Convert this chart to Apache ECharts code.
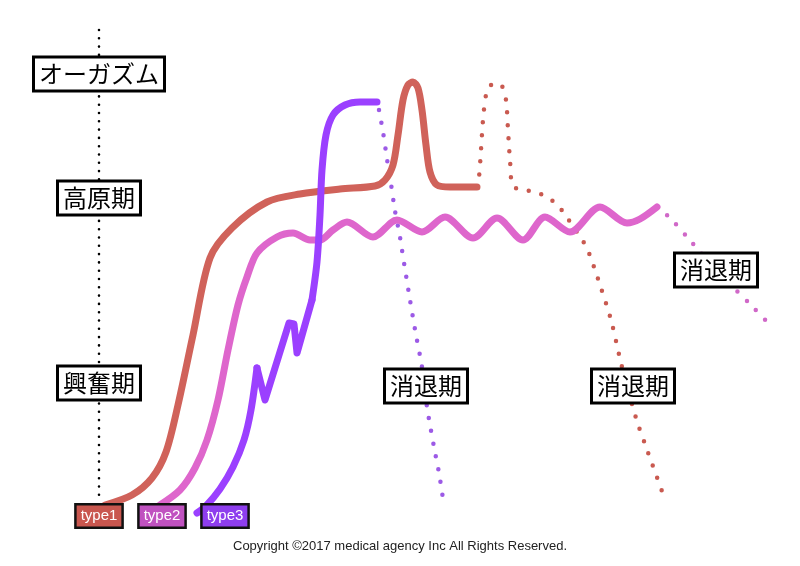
<!DOCTYPE html>
<html>
<head>
<meta charset="utf-8">
<script src="https://cdn.jsdelivr.net/npm/echarts@6/dist/echarts.min.js"></script>
<style>
  html, body { margin: 0; padding: 0; background: #fff; }
  #chart { width: 800px; height: 566px; }
</style>
</head>
<body>
<div id="chart"></div>
<script>
// 曲線データ（画面座標で読み取り）
const type1Solid = [[105,505],[132,495],[152,478],[166,452],[178,405],[193,335],[210,258],[232,228],[267,202],[300,194],[340,189],[375,186],[385,180],[393,165],[398,135],[403,100],[408,85],[413,82],[418,88],[422,110],[426,145],[430,172],[437,185],[450,187],[477,187]];
const type1Fade = [[477,187],[479,177],[481,150],[483,120],[486,95],[490,86],[496,83],[502,86],[506,100],[508,130],[510,160],[513,186],[525,190],[538,193],[550,199],[560,208],[568,219],[583,241],[589,253],[600,285],[611,320],[622,367],[636,418],[645,444],[663,494]];

const type2Solid = [[160,505],[180,490],[195,468],[207,440],[218,400],[228,350],[238,305],[247,277],[257,253],[277,237],[293,233],[310,240],[320,240],[333,230],[347,222],[373,237],[397,220],[422,232],[445,217],[473,238],[497,218],[523,240],[545,217],[570,232],[600,207],[627,223],[640,219],[657,207]];
const type2Fade = [[657,207],[670,218],[688,238],[700,252],[716,270],[733,287],[752,306],[770,325]];

const type3Low = [[197,513],[206,506],[220,489],[233,467],[244,440],[251,410],[257,368]];
const type3Zig = [[257,368],[265,400],[289,323],[294,324],[297,353],[312,300]];
const type3High = [[312,300],[317,262],[320,215],[322,170],[326,135],[333,115],[345,105],[360,102],[377,102]];
const type3Fade = [[379,110],[383,132],[387,159],[391,184],[395,211],[400,237],[402,250],[410,300],[416,335],[422,367],[427,407],[434,447],[439,473],[443,499]];

const stageAxis = [[99,30],[99,503]];

// ラベル
const stageLabels = ['オーガズム', '高原期', '興奮期'];
const stagePoints = [[99,74],[99,198],[99,383]];
const fadeLabels = ['消退期', '消退期', '消退期'];
const fadePoints = [[426,386],[633,386],[716,270]];
const typeLabels = ['type1', 'type2', 'type3'];
const typePoints = [[99,516],[162,516],[225,516]];

const colors = {
  red: '#d0625a', redDot: '#c95a50', redBox: '#c9574f',
  pink: '#de66cc', pinkDot: '#d068c8', pinkBox: '#c052c0',
  purple: '#9b40ff', purpleDot: '#9c5ae6', purpleBox: '#8e3eee'
};
const typeBoxColors = [colors.redBox, colors.pinkBox, colors.purpleBox];

const chart = echarts.init(document.getElementById('chart'));

function solidLine(data, color, smooth) {
  return {
    type: 'line', data: data, smooth: smooth, symbol: 'none', silent: true,
    lineStyle: { color: color, width: 7, cap: 'round', join: 'round' }
  };
}

function dotLine(data, color) {
  return {
    type: 'line', data: data, smooth: 0.3, symbol: 'none', silent: true,
    lineStyle: { color: color, width: 4.5, type: [0, 13], cap: 'round' }
  };
}

function labelSeries(names, points, label, extra) {
  return {
    type: 'scatter', z: 10, symbol: 'circle', symbolSize: 0, silent: true,
    itemStyle: { color: '#fff', opacity: 1 },
    data: names.map((t, i) => Object.assign({ value: points[i], name: t }, extra ? extra(i) : {})),
    label: Object.assign({
      show: true, position: 'inside', formatter: p => p.name,
      textBorderWidth: 0, textShadowBlur: 0, opacity: 1
    }, label)
  };
}

const jpLabel = {
  fontFamily: 'Noto Sans CJK JP', fontSize: 24, lineHeight: 27, color: '#000',
  backgroundColor: '#fff', borderColor: '#000', borderWidth: 3, padding: [2, 4]
};

chart.setOption({
  animation: false,
  title: {
    text: 'Copyright ©2017 medical agency Inc All Rights Reserved.',
    left: 'center', top: 535,
    textStyle: { fontFamily: 'Liberation Sans', fontSize: 13, fontWeight: 'normal', color: '#222' }
  },
  grid: { left: 0, right: 0, top: 0, bottom: 0 },
  xAxis: { type: 'value', min: 0, max: 800, show: false },
  yAxis: { type: 'value', min: 0, max: 566, inverse: true, show: false },
  series: [
    {
      type: 'line', data: stageAxis, symbol: 'none', silent: true,
      lineStyle: { color: '#000', width: 2.6, type: [0, 8.3], cap: 'round' }
    },
    dotLine(type3Fade, colors.purpleDot),
    dotLine(type1Fade, colors.redDot),
    dotLine(type2Fade, colors.pinkDot),
    solidLine(type1Solid, colors.red, 0.3),
    solidLine(type2Solid, colors.pink, 0.3),
    solidLine(type3Low, colors.purple, 0.3),
    solidLine(type3Zig, colors.purple, false),
    solidLine(type3High, colors.purple, 0.3),
    labelSeries(stageLabels.concat(fadeLabels), stagePoints.concat(fadePoints), jpLabel),
    labelSeries(typeLabels, typePoints, {
      fontFamily: 'Liberation Sans', fontSize: 15, lineHeight: 17, color: '#fff',
      borderColor: '#111', borderWidth: 2.5, padding: [2, 4]
    }, i => ({ label: { backgroundColor: typeBoxColors[i] } }))
  ]
});
</script>
</body>
</html>
